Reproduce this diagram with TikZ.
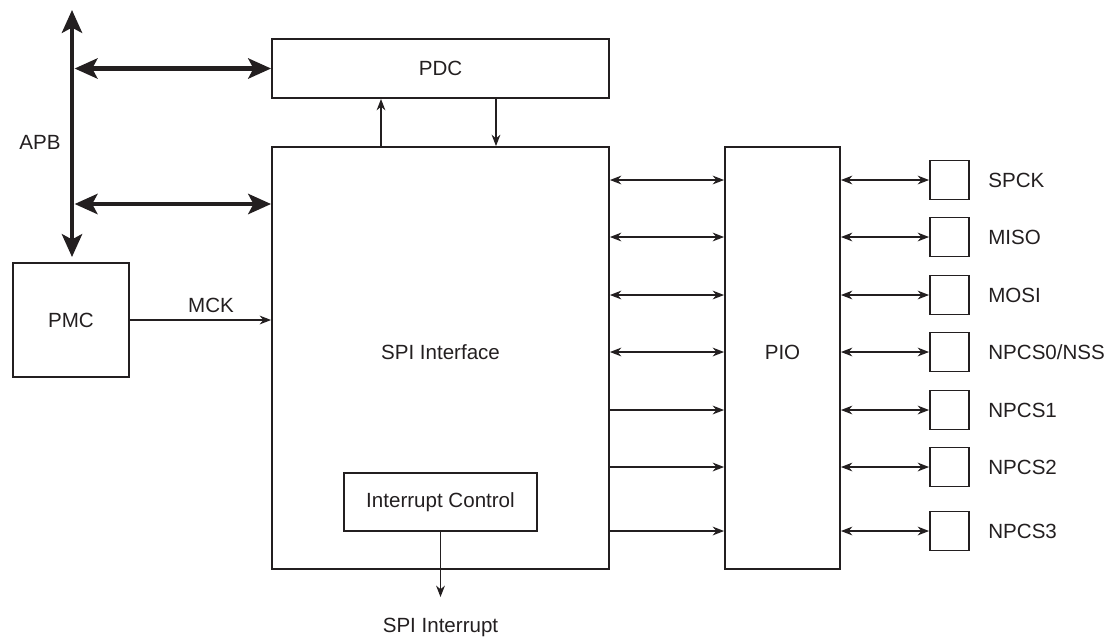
\documentclass[tikz,border=0pt]{standalone}
\usepackage{fontspec}
\setmainfont{Liberation Sans}
\usetikzlibrary{arrows.meta}
\definecolor{ink}{RGB}{35,31,32}

\begin{document}
\begin{tikzpicture}[x=0.02cm,y=-0.02cm,font=\fontsize{11.7}{14}\selectfont,
  box/.style={draw=ink,line width=1.1pt,inner sep=0pt,text=ink},
  lbl/.style={text=ink,inner sep=0pt},
  sig/.style={draw=ink,line width=0.65pt,-{Stealth[length=6.5pt,width=5pt]}},
  sigs/.style={sig,{Stealth[length=6.5pt,width=5pt]}-{Stealth[length=6.5pt,width=5pt]}},
  bus/.style={draw=ink,line width=2.3pt,{Stealth[length=13pt,width=11.5pt,inset=3pt]}-{Stealth[length=13pt,width=11.5pt,inset=3pt]}}]
\useasboundingbox (0,0) rectangle (1114,637);
% Blocks
\node[box,minimum width=6.74cm,minimum height=1.18cm] (pdc) at (440.5,68.5) {PDC};
\node[box,minimum width=6.74cm,minimum height=8.44cm] (spi) at (440.5,358) {};
\node[lbl] (spilbl) at (440.5,352) {SPI Interface};
\node[box,minimum width=3.86cm,minimum height=1.16cm] (intc) at (440.5,502) {Interrupt Control};
\node[box,minimum width=2.3cm,minimum height=8.44cm] (pio) at (782.5,358) {};
\node[lbl] (piolbl) at (782.5,352) {PIO};
\node[box,minimum width=2.32cm,minimum height=2.28cm] (pmc) at (71,320) {PMC};
% APB bus
\coordinate (apbtop) at (72,10);
\coordinate (apbbot) at (72,257);
\coordinate (apbmid) at (72,204);
\draw[bus] (apbtop) -- (apbbot);
\node[lbl] (apblbl) at (40,142) {APB};
\draw[bus,shorten <=1.5pt] (pdc.west -| apbtop) -- (pdc.west);
\draw[bus,shorten <=1.5pt] (apbmid) -- (apbmid -| spi.west);
% PDC transfers
\coordinate (txx) at (381,0);
\coordinate (rxx) at (496,0);
\draw[sig] (spi.north -| txx) -- (pdc.south -| txx);
\draw[sig] (pdc.south -| rxx) -- (spi.north -| rxx);
% Clock
\draw[sig] (pmc.east) -- (pmc.east -| spi.west);
\node[lbl] (mcklbl) at (211,305) {MCK};
% Interrupt
\coordinate (irq) at (440.5,597);
\draw[sig] (intc.south) -- (irq);
\node[lbl] (irqlbl) at (440.5,627) {SPI Interrupt};
% Pins
\foreach \y/\txt [count=\i] in {180/SPCK,237/MISO,295/MOSI,352/{NPCS0/NSS},410/NPCS1,467/NPCS2,531/NPCS3}{
  \node[box,minimum size=0.78cm] (p\i) at (949.5,\y) {};
  \node[lbl,anchor=west] (t\i) at (988,\y) {\txt};
  \draw[sigs] (pio.east |- p\i) -- (p\i.west);
}
\foreach \i in {1,...,4}
  \draw[sigs] (spi.east |- p\i) -- (pio.west |- p\i);
\foreach \i in {5,6,7}
  \draw[sig] (spi.east |- p\i) -- (pio.west |- p\i);
\end{tikzpicture}
\end{document}
